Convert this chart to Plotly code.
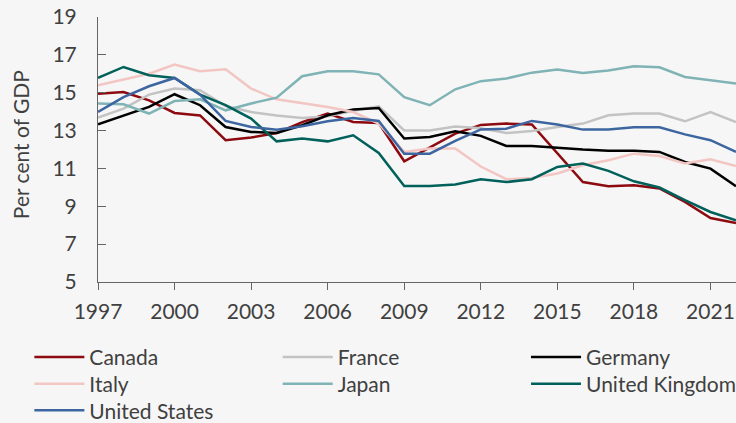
import plotly.graph_objects as go

years = list(range(1997, 2023))

canada = [14.95, 15.04, 14.6, 13.93, 13.8, 12.49, 12.63, 12.87, 13.45, 13.9, 13.45, 13.4,
          11.38, 12.13, 12.84, 13.3, 13.37, 13.32, 11.78, 10.28, 10.06, 10.11, 9.94, 9.23, 8.38, 8.12]
france = [13.69, 14.16, 14.9, 15.22, 15.13, 14.3, 13.98, 13.8, 13.66, 13.75, 14.05, 14.28,
          13.01, 13.01, 13.22, 13.12, 12.87, 12.98, 13.19, 13.37, 13.81, 13.9, 13.9, 13.49, 13.98, 13.45]
germany = [13.33, 13.81, 14.25, 14.92, 14.34, 13.19, 12.93, 12.87, 13.28, 13.81, 14.11, 14.19,
           12.58, 12.66, 12.96, 12.72, 12.19, 12.19, 12.08, 12.0, 11.94, 11.94, 11.87, 11.34, 10.99, 10.06]
italy = [15.39, 15.71, 16.0, 16.49, 16.13, 16.24, 15.22, 14.65, 14.43, 14.25, 13.98, 13.37,
         11.87, 12.05, 12.05, 11.1, 10.43, 10.5, 10.73, 11.17, 11.43, 11.78, 11.66, 11.26, 11.48, 11.13]
japan = [14.43, 14.39, 13.9, 14.56, 14.65, 14.07, 14.43, 14.74, 15.87, 16.13, 16.13, 15.97,
         14.77, 14.34, 15.18, 15.61, 15.75, 16.06, 16.22, 16.04, 16.17, 16.4, 16.34, 15.83, 15.66, 15.48]
uk = [15.78, 16.36, 15.92, 15.78, 14.9, 14.34, 13.63, 12.43, 12.58, 12.43, 12.75, 11.82,
      10.07, 10.07, 10.15, 10.43, 10.28, 10.43, 11.08, 11.26, 10.87, 10.32, 9.99, 9.32, 8.7, 8.26]
us = [13.98, 14.77, 15.34, 15.78, 14.9, 13.51, 13.19, 13.05, 13.23, 13.49, 13.67, 13.51,
      11.78, 11.78, 12.45, 13.06, 13.1, 13.51, 13.32, 13.05, 13.05, 13.17, 13.17, 12.8, 12.49, 11.87]

series_names = ["Canada", "France", "Germany", "Italy", "Japan", "United Kingdom", "United States"]
series_values = [canada, france, germany, italy, japan, uk, us]
series_colors = ["#8c0a10", "#c3c3c3", "#000000", "#f2c6c2", "#80b3b5", "#00615b", "#3d66a0"]

x_ticks = [1997, 2000, 2003, 2006, 2009, 2012, 2015, 2018, 2021]
y_ticks = [5, 7, 9, 11, 13, 15, 17, 19]

# legend grid: 3 columns, entries fill row by row
col_x = [0.0399, 0.3773, 0.7147]
row_y = [0.1553, 0.0922, 0.0291]

fig = go.Figure()
legend_layouts = {}
for i, (name, vals, col) in enumerate(zip(series_names, series_values, series_colors)):
    key = "legend" if i == 0 else f"legend{i + 1}"
    fig.add_trace(go.Scatter(x=years, y=vals, mode="lines", name=name, legend=key,
                             line=dict(color=col, width=2.5)))
    legend_layouts[key] = dict(orientation="v", xref="container", yref="container",
                               x=col_x[i % 3], y=row_y[i // 3],
                               xanchor="left", yanchor="middle", itemwidth=50,
                               bgcolor="rgba(0,0,0,0)",
                               font=dict(size=21, color="#404040"))

font_fam = "Lato, 'Open Sans', sans-serif"
BG = "#f6f6f6"

fig.update_layout(
    width=736, height=423,
    margin=dict(l=98, r=0, t=17, b=141, autoexpand=False),
    paper_bgcolor=BG, plot_bgcolor=BG,
    font=dict(family=font_fam, size=21, color="#404040"),
    showlegend=True,
    xaxis=dict(range=[1997, 2022], tickvals=x_ticks, ticks="outside", ticklen=7,
               tickcolor="#666666", showline=True, linecolor="#666666", linewidth=1,
               showgrid=False, zeroline=False, tickfont=dict(size=21),
               ticklabelstandoff=4, ticklabeloverflow="allow"),
    yaxis=dict(range=[5, 19], tickvals=y_ticks, ticks="inside", ticklen=8,
               tickcolor="#666666", showline=True, linecolor="#666666", linewidth=1,
               showgrid=False, zeroline=False, tickfont=dict(size=21),
               ticklabelstandoff=16, ticklabeloverflow="allow"),
    annotations=[dict(text="Per cent of GDP", textangle=-90, xref="paper", yref="paper",
                      x=-0.1223, y=0.52, xanchor="center", yanchor="middle",
                      showarrow=False, font=dict(size=21, color="#404040"))],
    **legend_layouts,
)

page_css = ("document.documentElement.style.margin='0';"
            "document.body.style.margin='0';"
            "document.body.style.overflow='hidden';"
            "document.body.style.background='" + BG + "';")

fig.write_html("out.html", post_script=page_css, config={"displayModeBar": False})
